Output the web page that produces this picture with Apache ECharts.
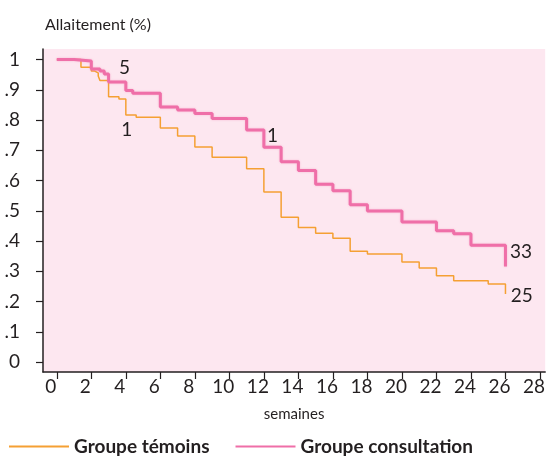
<!DOCTYPE html>
<html>
<head>
<meta charset="utf-8">
<script src="https://cdn.jsdelivr.net/npm/echarts@6/dist/echarts.min.js"></script>
<style>
html,body{margin:0;padding:0;background:#fff;}
#chart{width:548px;height:458px;}
</style>
</head>
<body>
<div id="chart"></div>
<script>
// Kaplan-Meier style step data: [week, proportion still breastfeeding]
const temoinsWeeks  = [0, 1.4, 2, 2.2, 2.4, 2.5, 3, 3.6, 4, 4.6, 6, 7, 8, 9, 11, 12, 13, 14, 15, 16, 17, 18, 20, 21, 22, 23, 25, 26];
const temoinsValues = [1.0, 0.975, 0.962, 0.956, 0.946, 0.931, 0.877, 0.870, 0.817, 0.809, 0.774, 0.747, 0.711, 0.677, 0.639, 0.562, 0.479, 0.445, 0.426, 0.409, 0.366, 0.357, 0.331, 0.311, 0.285, 0.269, 0.258, 0.225];

const consultWeeks  = [0, 1, 2, 2.5, 2.75, 3, 4, 4.4, 6, 7, 8, 9, 11, 12, 13, 14, 15, 16, 17, 18, 20, 22, 23, 24, 26];
const consultValues = [1.0, 0.995, 0.969, 0.962, 0.952, 0.926, 0.898, 0.889, 0.843, 0.833, 0.822, 0.805, 0.767, 0.710, 0.662, 0.633, 0.588, 0.566, 0.520, 0.499, 0.463, 0.434, 0.424, 0.386, 0.316];

const xTicks = [0, 2, 4, 6, 8, 10, 12, 14, 16, 18, 20, 22, 24, 26, 28];
const yTicks = [0, 0.1, 0.2, 0.3, 0.4, 0.5, 0.6, 0.7, 0.8, 0.9, 1];

// text annotations in data units: [week, value, text]
const annotations = [
  [3.93, 0.974, '5'],
  [4.05, 0.766, '1'],
  [12.5, 0.747, '1'],
  [26.9, 0.363, '33'],
  [26.95, 0.218, '25']
];

const FONT = 'Lato, "Open Sans", sans-serif';

function pairs(xs, ys){ return xs.map((x,i)=>[x, ys[i]]); }
function fmtY(v){
  if (Math.abs(v) < 1e-9) return '0';
  if (Math.abs(v-1) < 1e-9) return '1';
  return '.' + Math.round(v*10);
}

const chart = echarts.init(document.getElementById('chart'), null, {renderer:'canvas'});
chart.setOption({
  animation: false,
  backgroundColor: '#ffffff',
  title: {
    text: 'Allaitement (%)',
    left: 40, top: 12,
    textStyle: {fontFamily: FONT, fontSize: 16, fontWeight: 'normal', color: '#231f20'}
  },
  legend: {
    left: 3, top: 432,
    itemWidth: 60, itemHeight: 20, itemGap: 25,
    itemStyle: {opacity: 0},
    textStyle: {fontFamily: FONT, fontSize: 19, fontWeight: 'bold', color: '#231f20'},
    data: ['Groupe témoins', 'Groupe consultation']
  },
  grid: {left: 43, top: 49, right: 0, bottom: 86, show: true, backgroundColor: '#fde7f0', borderWidth: 0},
  xAxis: {
    type: 'value', min: -0.8, max: 28.3,
    name: 'semaines', nameLocation: 'middle', nameGap: 35,
    nameTextStyle: {fontFamily: FONT, fontSize: 15, color: '#231f20'},
    axisLine: {show: true, onZero: false, lineStyle: {color: '#231f20', width: 1.5}},
    axisTick: {show: true, customValues: xTicks, length: 7, lineStyle: {color: '#231f20', width: 1.2}},
    axisLabel: {customValues: xTicks, margin: 5, fontFamily: FONT, fontSize: 19, color: '#231f20', padding: [0, 12, 0, 0]},
    splitLine: {show: false}
  },
  yAxis: {
    type: 'value', min: -0.033, max: 1.035,
    axisLine: {show: true, onZero: false, lineStyle: {color: '#231f20', width: 1.5}},
    axisTick: {show: true, customValues: yTicks, length: 7, lineStyle: {color: '#231f20', width: 1.2}},
    axisLabel: {customValues: yTicks, margin: 23, fontFamily: FONT, fontSize: 19, color: '#231f20', formatter: fmtY},
    splitLine: {show: false}
  },
  series: [
    {
      name: 'Groupe témoins', type: 'line', step: 'end', symbol: 'none',
      data: pairs(temoinsWeeks, temoinsValues),
      lineStyle: {color: '#f5a033', width: 1.5},
      itemStyle: {color: '#f5a033'},
      z: 2
    },
    {
      name: 'Groupe consultation', type: 'line', step: 'end', symbol: 'none',
      data: pairs(consultWeeks, consultValues),
      lineStyle: {color: '#ef6fa8', width: 3, shadowColor: 'rgba(240,120,170,0.45)', shadowBlur: 2},
      itemStyle: {color: '#ef6fa8'},
      z: 3,
      markPoint: {
        symbol: 'circle', symbolSize: 1,
        itemStyle: {color: 'rgba(0,0,0,0)'},
        label: {show: true, position: 'inside', fontFamily: FONT, fontSize: 19, color: '#231f20', formatter: p => p.name},
        data: annotations.map(a => ({coord: [a[0], a[1]], name: a[2]}))
      }
    }
  ]
});
</script>
</body>
</html>
